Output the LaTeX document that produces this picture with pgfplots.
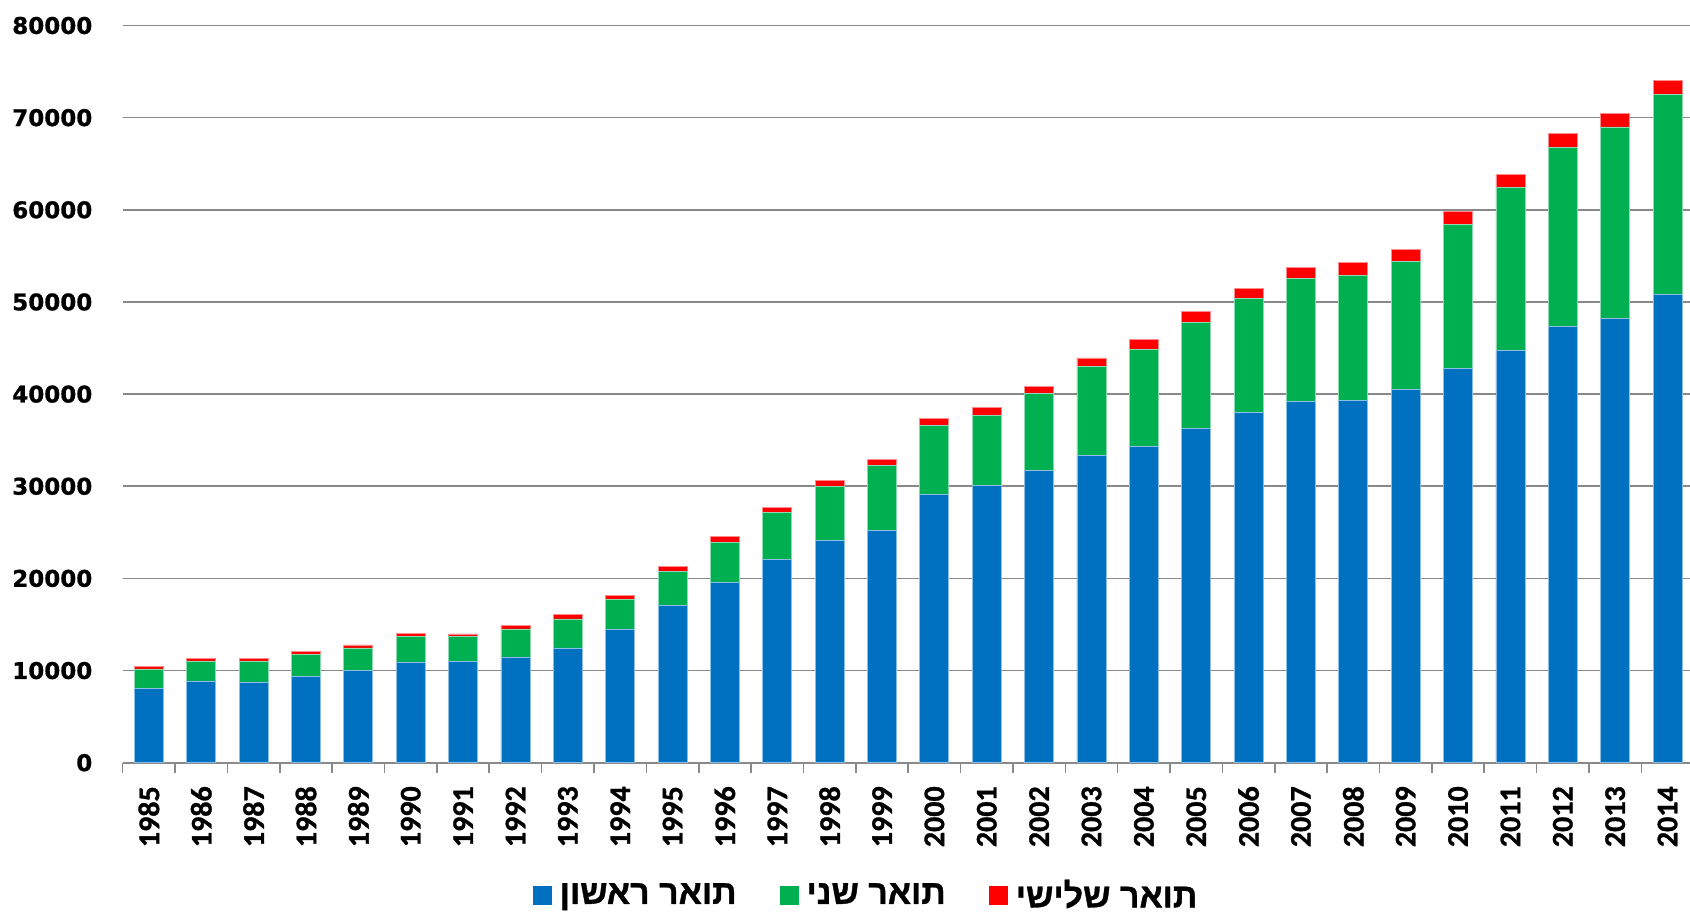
\documentclass[border=0pt]{standalone}
\usepackage{pgfplots}
\pgfplotsset{compat=1.18}
\usepackage{pgfplotstable}
\usepackage{fontspec}
\setmainfont{Carlito}
\newfontfamily\xlabfont[FakeBold=1]{Carlito Bold}
\newfontfamily\ylabfont[FakeBold=0.8]{DejaVu Sans Bold}
\newfontfamily\hebfont[Script=Hebrew,FakeBold=1]{Liberation Sans Bold}
\TeXXeTstate=1
\definecolor{cblue}{HTML}{0070C0}
\definecolor{cgreen}{HTML}{00B050}
\definecolor{cred}{HTML}{FF0000}
\definecolor{gridc}{HTML}{898989}

\pgfplotstableread{
x blue green red
0 8070 2100 250
1 8870 2170 250
2 8760 2280 250
3 9340 2390 360
4 10030 2420 330
5 10930 2750 330
6 10970 2710 290
7 11480 3040 360
8 12450 3150 470
9 14520 3150 500
10 17050 3690 510
11 19580 4350 580
12 22080 5070 580
13 24110 5860 690
14 25200 7090 580
15 29070 7530 720
16 30080 7640 800
17 31750 8310 820
18 33380 9600 940
19 34280 10610 1010
20 36270 11550 1160
21 38030 12350 1120
22 39250 13260 1190
23 39330 13580 1410
24 40520 13840 1300
25 42790 15580 1410
26 44780 17600 1410
27 47350 19430 1480
28 48250 20740 1450
29 50820 21710 1480
}\datatable

\pgfplotsset{sqlegend/.style={legend image code/.code={\fill[##1,draw=none] (0pt,-4.75pt) rectangle (9.5pt,4.75pt);}}}

\begin{document}
\begin{tikzpicture}
\path[use as bounding box] (-61.35pt,-77.15pt) rectangle (783.65pt,381.35pt);
\begin{axis}[
  scale only axis, width=785.5pt, height=368.6pt,
  ybar stacked, bar width=14.5pt,
  xmin=-0.5, xmax=29.5, ymin=0, ymax=80000,
  ytick={0,10000,...,80000},
  xtick={0,1,...,29},
  xticklabel={\pgfmathtruncatemacro\yr{\tick+1985}\yr},
  minor xtick={-0.5,0.5,...,29.5},
  axis lines*=left,
  y axis line style={draw=none},
  x axis line style={gridc, line width=0.8pt},
  ytick style={draw=none},
  major x tick style={draw=none},
  minor x tick style={gridc, line width=0.8pt},
  tick align=outside,
  major tick length=0pt,
  minor tick length=5pt,
  ymajorgrids,
  major grid style={gridc, line width=0.8pt},
  scaled y ticks=false,
  /pgf/number format/1000 sep={},
  /pgf/number format/assume math mode=true,
  yticklabel style={font=\ylabfont\fontsize{11.5}{12}\selectfont, inner sep=0pt, anchor=east},
  yticklabel shift=15pt,
  xticklabel style={font=\xlabfont\fontsize{15}{15}\selectfont, rotate=90, anchor=east, inner sep=0pt},
  xticklabel shift=11.6pt,
  legend style={at={(0.4738,-0.1795)}, anchor=center, draw=none, fill=none,
    legend columns=3,
    font=\hebfont\fontsize{17}{18}\selectfont,
    /tikz/every odd column/.append style={column sep=2pt},
    /tikz/every even column/.append style={column sep=19.5pt}},
]
\addplot[fill=cblue, draw=cblue!45!white, line width=0.4pt, sqlegend] table[x=x,y=blue]{\datatable};
\addlegendentry{\beginR תואר ראשון\endR}
\addplot[fill=cgreen, draw=cgreen!45!white, line width=0.4pt, sqlegend] table[x=x,y=green]{\datatable};
\addlegendentry{\beginR תואר שני\endR}
\addplot[fill=cred, draw=cred!45!white, line width=0.4pt, sqlegend] table[x=x,y=red]{\datatable};
\addlegendentry{\beginR תואר שלישי\endR}
\end{axis}
\end{tikzpicture}
\end{document}
